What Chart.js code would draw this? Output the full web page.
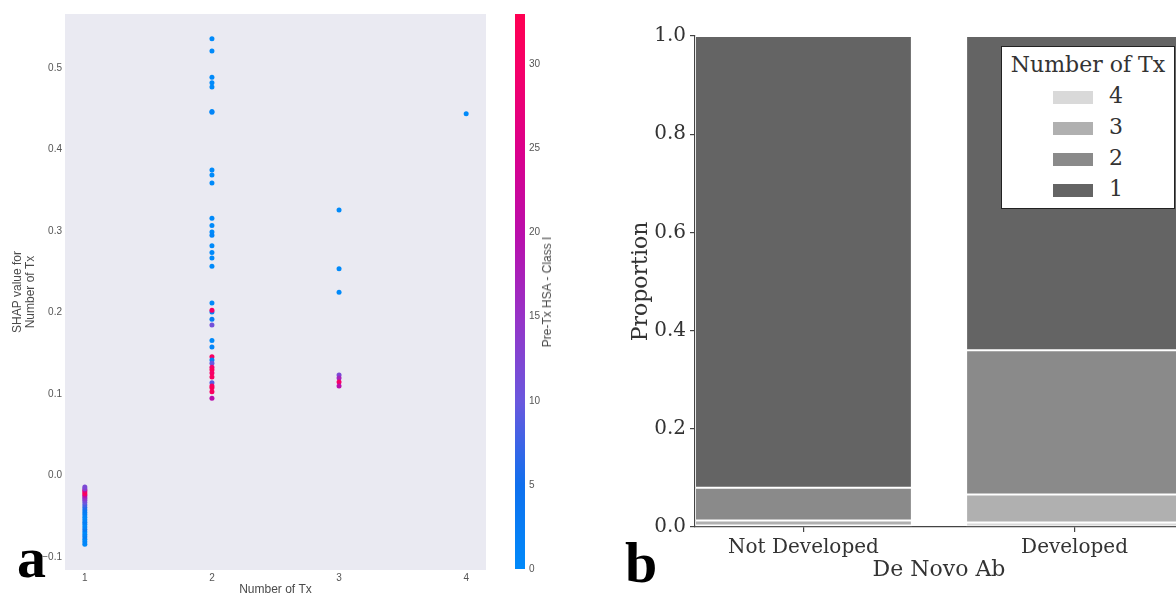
<!DOCTYPE html>
<html>
<head>
<meta charset="utf-8">
<script src="https://cdn.jsdelivr.net/npm/chart.js@4.4.0/dist/chart.umd.min.js"></script>
<style>
  html, body { margin: 0; padding: 0; background: #fff; overflow: hidden; }
  #page { position: relative; width: 1176px; height: 594px; overflow: hidden; }
  canvas { position: absolute; top: 0; }
  #shap { left: 0; }
  #cbar { left: 505px; }
  #bars { left: 600px; }
  .tag { position: absolute; font-family: "Liberation Serif", serif; font-weight: bold;
         font-size: 58px; line-height: 58px; color: #000; }
  #cblabel { position: absolute; left: 547px; top: 292px; white-space: nowrap;
             transform: translate(-50%, -50%) rotate(-90deg);
             font-family: "Liberation Sans", sans-serif; font-size: 12px; color: #4a4a4a; }
  #legend { position: absolute; left: 1001px; top: 46px; width: 174px; height: 163px;
            box-sizing: border-box; border: 1px solid #222; background: #fff;
            font-family: "DejaVu Serif", serif; font-size: 22px; color: #333; text-align: center; }
  #legend .ttl { margin-top: 2px; height: 31px; line-height: 31px; }
  #legend .row { height: 31px; line-height: 31px; }
  #legend .sw { display: inline-block; width: 40px; height: 13px; margin-right: 16px; vertical-align: middle; }
</style>
</head>
<body>
<div id="page">
  <canvas id="shap" width="490" height="594"></canvas>
  <canvas id="cbar" width="48" height="594"></canvas>
  <canvas id="bars" width="590" height="594"></canvas>
  <div id="cblabel">Pre-Tx HSA - Class I</div>
  <div id="legend"></div>
  <div class="tag" style="left:17px; top:529px;">a</div>
  <div class="tag" style="left:625px; top:534px;">b</div>
</div>
<script>
// ---- panel a: SHAP dependence plot ----
const txTicks = [1, 2, 3, 4];
const shapTicks = [-0.1, 0.0, 0.1, 0.2, 0.3, 0.4, 0.5];
const hsaTicks = [0, 5, 10, 15, 20, 25, 30];
const hsaRange = [0, 33];

const shapTx1 = [-0.084, -0.081, -0.078, -0.075, -0.072, -0.069, -0.066, -0.063, -0.060, -0.057,
                 -0.054, -0.051, -0.048, -0.045, -0.042, -0.039, -0.036, -0.033, -0.030, -0.028,
                 -0.026, -0.024, -0.022, -0.020, -0.018, -0.016, -0.014];
const hsaTx1 = [0, 1, 0, 2, 1, 0, 3, 1, 0, 2,
                1, 0, 1, 2, 3, 6, 8, 10, 12, 14,
                16, 20, 30, 32, 24, 14, 12];
const shapTx2 = [0.536, 0.521, 0.489, 0.482, 0.477, 0.447, 0.446, 0.375, 0.369, 0.359,
                 0.316, 0.307, 0.299, 0.295, 0.282, 0.274, 0.267, 0.257, 0.212, 0.201,
                 0.203, 0.192, 0.185, 0.166, 0.158, 0.146, 0.142, 0.138, 0.133, 0.130,
                 0.126, 0.121, 0.114, 0.110, 0.108, 0.103, 0.095];
const hsaTx2 = [0, 0, 0, 0, 0, 0, 1, 0, 0, 0,
                0, 0, 0, 1, 0, 0, 0, 0, 0, 1,
                30, 2, 11, 0, 1, 31, 2, 10, 29, 32,
                30, 31, 9, 30, 32, 31, 20];
const shapTx3 = [0.326, 0.254, 0.225, 0.1235, 0.120, 0.115, 0.110];
const hsaTx3 = [0, 0, 0, 12, 17, 30, 20];
const shapTx4 = [0.444];
const hsaTx4 = [0];

// ---- panel b: stacked proportions ----
const groups = ['Not Developed', 'Developed'];
const txLevels = ['4', '3', '2', '1'];
const share4 = [0.003, 0.009];
const share3 = [0.010, 0.057];
const share2 = [0.067, 0.294];
const share1 = [0.920, 0.640];
const propTicks = [0.0, 0.2, 0.4, 0.6, 0.8, 1.0];

const greys = ['#d9d9d9', '#b0b0b0', '#8a8a8a', '#646464'];
const cmapStops = [
  [0.00, [0, 138, 250]], [0.15, [15, 112, 238]], [0.30, [105, 88, 222]],
  [0.45, [150, 52, 200]], [0.60, [185, 15, 172]], [0.75, [218, 0, 140]],
  [0.90, [245, 0, 105]], [1.00, [255, 0, 82]]
];

function cmap(v) {
  let t = (v - hsaRange[0]) / (hsaRange[1] - hsaRange[0]);
  t = Math.max(0, Math.min(1, t));
  for (let i = 1; i < cmapStops.length; i++) {
    const [t1, c1] = cmapStops[i];
    const [t0, c0] = cmapStops[i - 1];
    if (t <= t1) {
      const f = (t - t0) / (t1 - t0);
      return 'rgb(' + c0.map((c, k) => Math.round(c + (c1[k] - c) * f)).join(',') + ')';
    }
  }
  return 'rgb(255,0,82)';
}

const pts = [];
[[1, shapTx1, hsaTx1], [2, shapTx2, hsaTx2], [3, shapTx3, hsaTx3], [4, shapTx4, hsaTx4]]
  .forEach(([tx, s, h]) => s.forEach((v, i) => pts.push({ x: tx, y: v, hsa: h[i] })));

const sans = 'Liberation Sans';
const serif = 'DejaVu Serif';

const plotBg = {
  id: 'plotBg',
  beforeDraw(chart) {
    const a = chart.chartArea;
    chart.ctx.save();
    chart.ctx.fillStyle = '#eaeaf2';
    chart.ctx.fillRect(a.left, a.top, a.right - a.left, a.bottom - a.top);
    chart.ctx.restore();
  }
};

new Chart(document.getElementById('shap'), {
  type: 'scatter',
  data: {
    datasets: [{
      data: pts,
      pointRadius: 2.5,
      pointBorderWidth: 0,
      pointBackgroundColor: pts.map(p => cmap(p.hsa))
    }]
  },
  options: {
    responsive: false,
    animation: false,
    layout: { padding: { top: 14, left: 0, right: 0, bottom: 0 } },
    plugins: { legend: { display: false }, tooltip: { enabled: false } },
    scales: {
      x: {
        type: 'linear', min: 0.844, max: 4.156,
        afterBuildTicks: s => { s.ticks = txTicks.map(v => ({ value: v })); },
        afterFit: s => { s.height = 24; },
        grid: { display: false, drawTicks: false },
        border: { display: false },
        ticks: { padding: 2, color: '#555', font: { family: sans, size: 10 }, callback: v => String(v) },
        title: { display: true, text: 'Number of Tx', color: '#4a4a4a',
                 font: { family: sans, size: 12, lineHeight: 1 }, padding: { top: 0, bottom: -2 } }
      },
      y: {
        min: -0.1157, max: 0.5665,
        afterBuildTicks: s => { s.ticks = shapTicks.map(v => ({ value: v })); },
        afterFit: s => { s.width = 65; },
        grid: { display: false, drawTicks: false },
        border: { display: false },
        ticks: { padding: 3, color: '#555', font: { family: sans, size: 10 },
                 callback: v => v.toFixed(1).replace('-', '\u2212') },
        title: { display: true, text: ['SHAP value for', 'Number of Tx'], color: '#4a4a4a',
                 font: { family: sans, size: 12, lineHeight: 1.08 }, padding: { top: 11.5, bottom: 0 } }
      }
    }
  },
  plugins: [plotBg]
});

// colour bar
new Chart(document.getElementById('cbar'), {
  type: 'bar',
  data: {
    labels: [''],
    datasets: [{
      data: [hsaRange],
      borderWidth: 0,
      barPercentage: 1,
      categoryPercentage: 1,
      backgroundColor: c => {
        const a = c.chart.chartArea;
        if (!a) return cmap(0);
        const g = c.chart.ctx.createLinearGradient(0, a.bottom, 0, a.top);
        cmapStops.forEach(([t, rgb]) => g.addColorStop(t, 'rgb(' + rgb.join(',') + ')'));
        return g;
      }
    }]
  },
  options: {
    responsive: false,
    animation: false,
    layout: { padding: { top: 14, left: 10, right: 0, bottom: 25 } },
    plugins: { legend: { display: false }, tooltip: { enabled: false } },
    scales: {
      x: { display: false },
      y: {
        position: 'right', min: hsaRange[0], max: hsaRange[1],
        afterBuildTicks: s => { s.ticks = hsaTicks.map(v => ({ value: v })); },
        afterFit: s => { s.width = 28; },
        grid: { display: false, drawTicks: false },
        border: { display: false },
        ticks: { padding: 4, color: '#555', font: { family: sans, size: 10 } }
      }
    }
  }
});

// panel b
const shares = [share4, share3, share2, share1];
const barChart = new Chart(document.getElementById('bars'), {
  type: 'bar',
  data: {
    datasets: txLevels.map((lv, k) => ({
      label: lv,
      data: shares[k].map((v, i) => ({ x: i, y: v })),
      backgroundColor: greys[k],
      borderColor: 'rgba(255,255,255,0.4)',
      borderWidth: 1,
      borderSkipped: false,
      barPercentage: 0.8,
      categoryPercentage: 1
    }))
  },
  options: {
    responsive: false,
    animation: false,
    layout: { padding: { top: 36, left: 0, right: 7, bottom: 0 } },
    plugins: { legend: { display: false }, tooltip: { enabled: false } },
    scales: {
      x: {
        type: 'linear', stacked: true, min: -0.4, max: 1.4, offset: false,
        afterBuildTicks: s => { s.ticks = groups.map((g, i) => ({ value: i })); },
        afterFit: s => { s.height = 67; },
        grid: { offset: false, drawOnChartArea: false, drawTicks: true, tickLength: 5, color: '#444', lineWidth: 1.2 },
        border: { display: true, color: '#444', width: 1.2 },
        ticks: { padding: 4, color: '#333', font: { family: serif, size: 20 }, callback: v => groups[v] },
        title: { display: true, text: 'De Novo Ab', color: '#333',
                 font: { family: serif, size: 22 }, padding: { top: 0, bottom: 11 } }
      },
      y: {
        stacked: true, min: 0, max: 1,
        afterBuildTicks: s => { s.ticks = propTicks.map(v => ({ value: v })); },
        afterFit: s => { s.width = 95; },
        grid: { drawOnChartArea: false, drawTicks: true, tickLength: 5, color: '#444', lineWidth: 1.2 },
        border: { display: true, color: '#444', width: 1.2 },
        ticks: { padding: 4, color: '#333', font: { family: serif, size: 20 }, callback: v => v.toFixed(1) },
        title: { display: true, text: 'Proportion', color: '#333',
                 font: { family: serif, size: 22 }, padding: { top: 28, bottom: 0 } }
      }
    }
  }
});

// legend built from the chart's datasets
const lg = document.getElementById('legend');
const ttl = document.createElement('div');
ttl.className = 'ttl';
ttl.textContent = 'Number of Tx';
lg.appendChild(ttl);
barChart.data.datasets.forEach(ds => {
  const row = document.createElement('div');
  row.className = 'row';
  const sw = document.createElement('span');
  sw.className = 'sw';
  sw.style.background = ds.backgroundColor;
  const tx = document.createElement('span');
  tx.textContent = ds.label;
  row.appendChild(sw);
  row.appendChild(tx);
  lg.appendChild(row);
});
</script>
</body>
</html>
